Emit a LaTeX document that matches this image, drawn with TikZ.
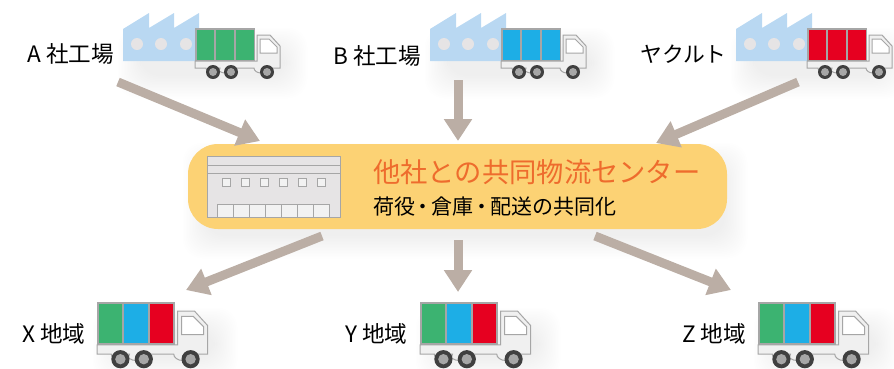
\documentclass[tikz,border=0pt]{standalone}
\usepackage{fontspec}
\setmainfont{Noto Sans CJK JP}
\usetikzlibrary{arrows.meta}

\definecolor{factoryblue}{HTML}{B9D8F2}
\definecolor{centeryellow}{HTML}{FCD274}
\definecolor{titleorange}{HTML}{EE6C2D}
\definecolor{arrowbrown}{HTML}{BBAEA5}
\definecolor{linegray}{HTML}{A6A6A6}
\definecolor{wallgray}{HTML}{E6E4E5}
\definecolor{cgreen}{HTML}{3CB371}
\definecolor{cblue}{HTML}{1DAEE6}
\definecolor{cred}{HTML}{E60020}

\tikzset{
	flowarrow/.style={-{Triangle[length=22pt,width=27pt]},line width=9pt,arrowbrown},
	placelabel/.style={anchor=west,inner sep=0pt,font=\fontsize{22.6}{22.6}\selectfont},
	wall/.style={draw=linegray,line width=1pt,fill=wallgray},
	pics/factory/.style={code={
		\fill[factoryblue] (123,61) -- (123,29) -- (149,13) -- (149,28) -- (174,13) -- (174,28) -- (199,13) -- (199,61) -- cycle;
		\foreach \x in {137,161,186} \fill[wallgray] (\x,44) circle (6);
	}},
	pics/truck/.style n args={3}{code={
		% chassis and cab
		\draw[linegray,line width=1pt,fill=white!94!black] (0,33) -- (0,40) -- (11,40) arc (180:0:7 and 5) -- (23,40) arc (180:0:7 and 5) -- (59,40) arc (180:0:7 and 5) -- (85,40) -- (85,18) -- (75,7) -- (62,7) -- (62,33) -- cycle;
		\draw[linegray,line width=1pt,fill=white] (65,11) -- (74,11) -- (82,19) -- (82,25) -- (65,25) -- cycle;
		% cargo
		\fill[linegray] (0,0) rectangle (60,33);
		\fill[#1] (1.5,1.5) rectangle (19,31.5);
		\fill[#2] (21,1.5) rectangle (39,31.5);
		\fill[#3] (41,1.5) rectangle (58.5,31.5);
		% wheels
		\foreach \x in {18,36,72} {
			\fill[black!75] (\x,44) circle (7);
			\fill[black!35] (\x,44) circle (4);
		}
	}}
}
\newcommand*{\softShadow}[4]{%
	\foreach \i in {0,...,15}
		\fill[black,opacity=.005,rounded corners=20pt] (#1-1.5*\i,#2-1.5*\i) rectangle (#3+1.5*\i,#4+1.5*\i);
}

\begin{document}
\begin{tikzpicture}[x=1pt,y=-1pt]
	\useasboundingbox (0,0) rectangle (894,368);
	
	% shadows
	\softShadow{140}{50}{285}{76}
	\softShadow{447}{50}{592}{76}
	\softShadow{753}{50}{885}{76}
	\softShadow{205}{165}{725}{236}
	\softShadow{115}{330}{215}{358}
	\softShadow{438}{330}{538}{358}
	\softShadow{776}{330}{876}{358}
	
	% factories with trucks
	\pic at(0,0) {factory};
	\pic at(195,28) {truck={cgreen}{cgreen}{cgreen}};
	\pic at(307,0) {factory};
	\pic at(501,28) {truck={cblue}{cblue}{cblue}};
	\pic at(613,0) {factory};
	\pic at(807,28) {truck={cred}{cred}{cred}};
	
	% labels
	\node[placelabel] (labelA) at(27,54) {A 社工場};
	\node[placelabel] (labelB) at(333,56) {B 社工場};
	\node[placelabel,font=\fontsize{21.8}{21.8}\selectfont] (labelYakult) at(640,54) {ヤクルト};
	
	% rectangle center
	\node[fill=centeryellow,rounded corners=30pt,minimum width=539pt,minimum height=85pt,inner sep=0pt] (center) at(457.5,186.5) {};
	\node[anchor=west,inner sep=0pt,text=titleorange,font=\fontsize{27.3}{27.3}\selectfont] (centerTitle) at(373,172) {他社との共同物流センター};
	\node[anchor=west,inner sep=0pt,font=\fontsize{21}{21}\selectfont] (centerText) at(373,207) {荷役\kern-2.3pt・\kern-2.3pt倉庫\kern-2.3pt・\kern-2.3pt配送の共同化};
	
	% warehouse
	\draw[wall] (207.5,156) rectangle (340,217);
	\draw[linegray,line width=1pt] (207.5,165) -- (340,165);
	\draw[linegray,line width=1.5pt] (207.5,173.5) -- (340,173.5);
	\foreach \x in {226,245,264,283,302,321}
		\draw[linegray,line width=1pt,fill=white!95!black] (\x-4,178) rectangle (\x+4,186);
	\foreach \i in {0,...,6}
		\draw[linegray,line width=1pt,fill=white!95!black] (217.7+16*\i,204.3) rectangle ++(16,12.7);
	
	% arrow ends
	\coordinate (fromA) at(118,82);
	\coordinate (toA) at(260,141);
	\coordinate (fromB) at(458,80);
	\coordinate (toB) at(458,141);
	\coordinate (fromYakult) at(798,82);
	\coordinate (toYakult) at(656,143);
	\coordinate (fromX) at(322,236);
	\coordinate (toX) at(186,290);
	\coordinate (fromY) at(458,240);
	\coordinate (toY) at(458,292);
	\coordinate (fromZ) at(595,236);
	\coordinate (toZ) at(731,290);
	
	% arrows
	\draw[flowarrow] (fromA) -- (toA);
	\draw[flowarrow] (fromB) -- (toB);
	\draw[flowarrow] (fromYakult) -- (toYakult);
	\draw[flowarrow] (fromX) -- (toX);
	\draw[flowarrow] (fromY) -- (toY);
	\draw[flowarrow] (fromZ) -- (toZ);
	
	% delivery trucks
	\pic[scale=1.3] at(97,302) {truck={cgreen}{cblue}{cred}};
	\pic[scale=1.3] at(420,302) {truck={cgreen}{cblue}{cred}};
	\pic[scale=1.3] at(758,302) {truck={cgreen}{cblue}{cred}};
	\node[placelabel] (labelX) at(22,334) {X 地域};
	\node[placelabel] (labelY) at(345,334) {Y 地域};
	\node[placelabel] (labelZ) at(682,334) {Z 地域};
\end{tikzpicture}
\end{document}
